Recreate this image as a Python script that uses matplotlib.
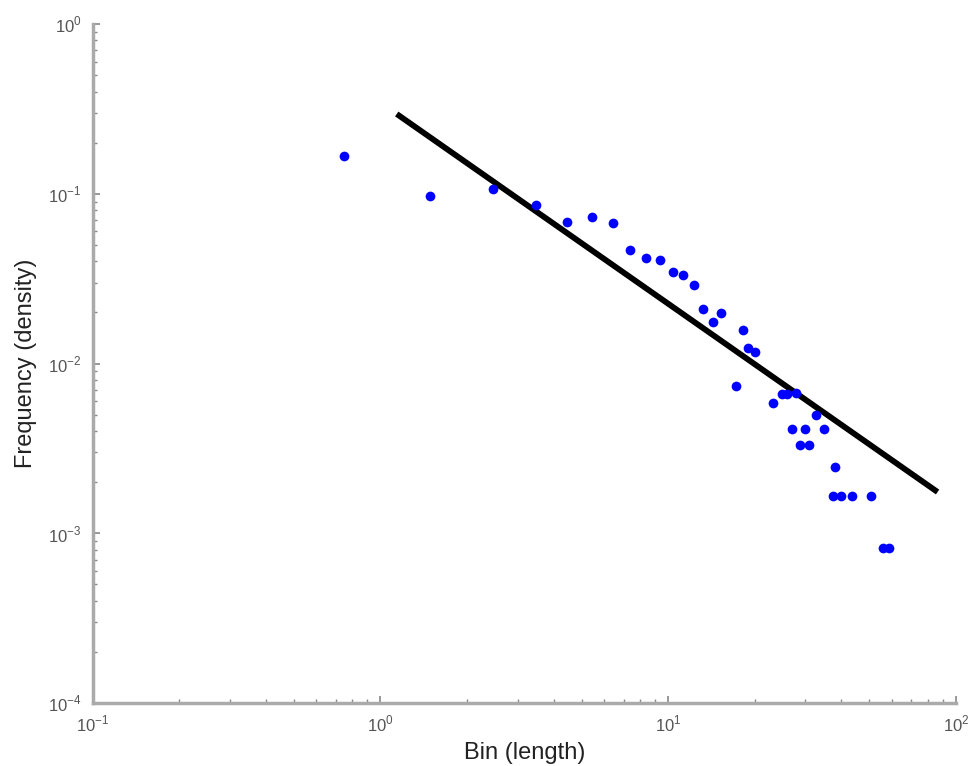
import numpy as np
import matplotlib
matplotlib.use("Agg")
import matplotlib.pyplot as plt
from matplotlib.ticker import LogLocator, FixedLocator

plt.rcParams['font.family'] = ['Liberation Sans', 'DejaVu Sans']
plt.rcParams['mathtext.fontset'] = 'custom'
plt.rcParams['mathtext.rm'] = 'Liberation Sans'
plt.rcParams['axes.unicode_minus'] = False

# binned lengths and their densities
bins = [0.75, 1.49, 2.46, 3.47, 4.45, 5.43, 6.41, 7.35, 8.35, 9.34,
        10.4, 11.3, 12.3, 13.2, 14.3, 15.2, 17.2, 18.2, 19.0, 20.1,
        23.1, 24.8, 25.8, 27.9, 32.7, 27.0, 29.8, 34.7, 28.8, 30.9,
        38.0, 37.3, 39.8, 43.4, 50.5, 55.6, 58.6]
density = [0.167, 0.097, 0.107, 0.0859, 0.0682, 0.073, 0.067, 0.0467, 0.0418, 0.0407,
           0.0346, 0.0332, 0.029, 0.0209, 0.0176, 0.0199, 0.00737, 0.0157, 0.0123, 0.0117,
           0.00585, 0.0066, 0.0066, 0.0067, 0.00497, 0.00411, 0.00411, 0.00411, 0.00331, 0.00331,
           0.00245, 0.00166, 0.00166, 0.00166, 0.00166, 0.000818, 0.000818]

# power-law fit line
fit_x = [1.14, 86.3]
fit_y = [0.295, 0.00175]

fig = plt.figure(figsize=(9.76, 7.66), dpi=100, facecolor="#FFFFFF")
ax = fig.add_axes([0.0948, 0.0822, 0.8847, 0.8865])

ax.plot(fit_x, fit_y, color='black', linewidth=4.2, solid_capstyle='butt', zorder=2)
ax.plot(bins, density, linestyle='none', marker='o', markersize=7,
        color='#0000FF', markeredgewidth=0, zorder=3)

ax.set_xscale('log')
ax.set_yscale('log')
ax.set_xlim(0.1, 100)
ax.set_ylim(1e-4, 1)

ax.xaxis.set_major_locator(FixedLocator([0.1, 1, 10, 100]))
ax.yaxis.set_major_locator(FixedLocator([1e-4, 1e-3, 1e-2, 1e-1, 1]))
ax.xaxis.set_minor_locator(LogLocator(base=10, subs=np.arange(2, 10)))
ax.yaxis.set_minor_locator(LogLocator(base=10, subs=np.arange(2, 10)))
ax.set_xticklabels([r'$10^{-1}$', r'$10^{0}$', r'$10^{1}$', r'$10^{2}$'])
ax.set_yticklabels([r'$10^{-4}$', r'$10^{-3}$', r'$10^{-2}$', r'$10^{-1}$', r'$10^{0}$'])

for side in ['top', 'right']:
    ax.spines[side].set_visible(False)
for side in ['left', 'bottom']:
    ax.spines[side].set_color('#AAAAAA')
    ax.spines[side].set_linewidth(2.5)

ax.tick_params(which='major', direction='in', length=5, width=1.2, color='#888888',
               labelsize=12, labelcolor='#555555', pad=8)
ax.tick_params(which='minor', direction='in', length=3, width=1.0, color='#888888')

ax.set_xlabel('Bin (length)', fontsize=17, color='#222222', labelpad=5)
ax.set_ylabel('Frequency (density)', fontsize=17, color='#222222', labelpad=8)

fig.savefig('out.png', dpi=100, facecolor="#FFFFFF")
